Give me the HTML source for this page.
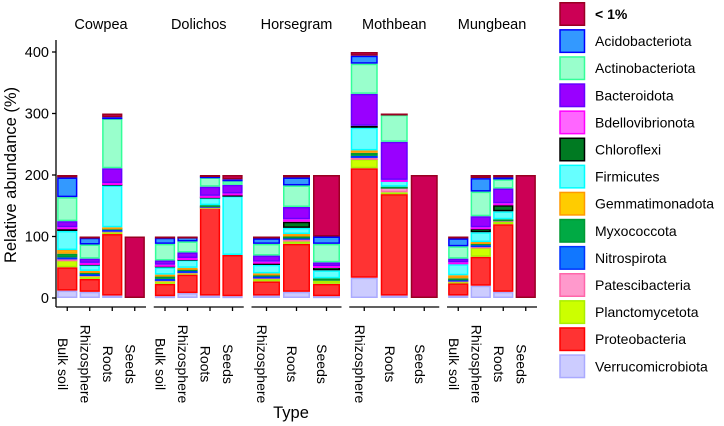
<!DOCTYPE html>
<html><head><meta charset="utf-8">
<style>
html,body{margin:0;padding:0;background:#fff;}
svg{display:block;font-family:"Liberation Sans",Arial,sans-serif;}
</style></head>
<body>
<svg id="chart" width="724" height="426" viewBox="0 0 724 426" xmlns="http://www.w3.org/2000/svg"></svg>
<script>
const taxa = ["Verrucomicrobiota","Proteobacteria","Planctomycetota","Patescibacteria","Nitrospirota","Myxococcota","Gemmatimonadota","Firmicutes","Chloroflexi","Bdellovibrionota","Bacteroidota","Actinobacteriota","Acidobacteriota","< 1%"];
const legendOrder = ["< 1%","Acidobacteriota","Actinobacteriota","Bacteroidota","Bdellovibrionota","Chloroflexi","Firmicutes","Gemmatimonadota","Myxococcota","Nitrospirota","Patescibacteria","Planctomycetota","Proteobacteria","Verrucomicrobiota"];
const crops = ["Cowpea","Dolichos","Horsegram","Mothbean","Mungbean"];
const cropTypes = [
  ["Bulk soil","Rhizosphere","Roots","Seeds"],
  ["Bulk soil","Rhizosphere","Roots","Seeds"],
  ["Rhizosphere","Roots","Seeds"],
  ["Rhizosphere","Roots","Seeds"],
  ["Bulk soil","Rhizosphere","Roots","Seeds"]
];
// values per bar in taxa order (bottom to top)
const cowpeaBulk   = [12,38,12,1,3,6,6,31,4,2,10,39,32,4];
const cowpeaRhizo  = [10,21,6,1,1,3,2,10,2,1,7,23,11,2];
const cowpeaRoots  = [4,100,5,1,1,3,1,68,3,1,24,81,2,6];
const cowpeaSeeds  = [0,0,0,0,0,0,0,0,0,0,0,0,0,100];
const dolBulk      = [3,20,6,1,1,4,3,12,3,1,7,27,10,2];
const dolRhizo     = [8,30,4,1,1,3,2,13,2,1,9,18,7,1];
const dolRoots     = [4,143,1,1,1,1,0,12,2,1,15,15,2,2];
const dolSeeds     = [3,67,0,0,0,0,0,96,2,2,14,6,3,7];
const horRhizo     = [4,23,5,2,1,3,2,14,3,2,10,19,9,3];
const horRoots     = [10,78,4,3,3,2,4,10,10,4,20,35,13,4];
const horSeeds     = [3,20,5,0,0,4,0,13,6,1,6,30,12,100];
const mothRhizo    = [33,178,15,2,3,5,4,37,3,0,52,49,13,6];
const mothRoots    = [4,165,3,8,0,1,0,10,0,1,62,44,0,2];
const mothSeeds    = [0,0,0,0,0,0,0,0,0,0,0,0,0,200];
const mungBulk     = [4,20,3,2,1,2,5,18,0,3,6,20,13,3];
const mungRhizo    = [20,47,15,2,2,3,2,16,6,2,18,40,22,5];
const mungRoots    = [10,110,4,3,0,1,0,13,10,3,24,15,3,4];
const mungSeeds    = [0,0,0,0,0,0,0,0,0,0,0,0,0,200];
const yTicks = [0,100,200,300,400];

const seriesByCrop = [
  [cowpeaBulk,cowpeaRhizo,cowpeaRoots,cowpeaSeeds],
  [dolBulk,dolRhizo,dolRoots,dolSeeds],
  [horRhizo,horRoots,horSeeds],
  [mothRhizo,mothRoots,mothSeeds],
  [mungBulk,mungRhizo,mungRoots,mungSeeds]
];
const fills = {"< 1%":"#cc0055","Acidobacteriota":"#3399ff","Actinobacteriota":"#99ffcc","Bacteroidota":"#9900ff","Bdellovibrionota":"#ff66ff","Chloroflexi":"#007a22","Firmicutes":"#66ffff","Gemmatimonadota":"#ffcc00","Myxococcota":"#00aa44","Nitrospirota":"#1177ff","Patescibacteria":"#ff99cc","Planctomycetota":"#ccff00","Proteobacteria":"#ff3333","Verrucomicrobiota":"#ccccff"};
const strokes = {"< 1%":"#990022","Acidobacteriota":"#0000ff","Actinobacteriota":"#33ff99","Bacteroidota":"#6600ff","Bdellovibrionota":"#ff00ff","Chloroflexi":"#000000","Firmicutes":"#00ffff","Gemmatimonadota":"#ff9900","Myxococcota":"#009933","Nitrospirota":"#0033ff","Patescibacteria":"#ff66aa","Planctomycetota":"#aaee00","Proteobacteria":"#ff0000","Verrucomicrobiota":"#aaaaff"};

const NS="http://www.w3.org/2000/svg";
const svg=document.getElementById('chart');
function mk(tag,attrs,parent){const e=document.createElementNS(NS,tag);for(const k in attrs)e.setAttribute(k,attrs[k]);(parent||svg).appendChild(e);return e;}
const y0=298, yTop=52, vMax=400;
function yS(v){return y0-(v/vMax)*(y0-yTop);}
const panelX0=56, panelStep=97.75, panelW=90, axisY=307;

const yAxis=mk('g',{});


mk('line',{x1:panelX0,x2:panelX0,y1:40,y2:axisY,stroke:'#000','stroke-width':1.3},yAxis);
yTicks.forEach(t=>{
  mk('line',{x1:panelX0-4,x2:panelX0,y1:yS(t),y2:yS(t),stroke:'#000','stroke-width':1.3},yAxis);
  const tx=mk('text',{x:panelX0-7,y:yS(t)+5,'text-anchor':'end','font-size':14.5},yAxis);
  
  
  tx.textContent=t;
});
const yt=mk('text',{x:0,y:0,transform:'translate(16,175) rotate(-90)','text-anchor':'middle','font-size':16.5});


yt.textContent='Relative abundance (%)';
const xt=mk('text',{x:291,y:418,'text-anchor':'middle','font-size':16.5});


xt.textContent='Type';

crops.forEach((crop,ci)=>{
  const px=panelX0+ci*panelStep;
  const g=mk('g',{});
  
  
  const ft=mk('text',{x:px+panelW/2,y:29,'text-anchor':'middle','font-size':14.5},g);
  
  
  ft.textContent=crop;
  mk('line',{x1:px,x2:px+panelW,y1:axisY,y2:axisY,stroke:'#000','stroke-width':1.3},g);
  const types=cropTypes[ci], n=types.length, slot=panelW/n, bw=slot*0.9;
  types.forEach((tp,bi)=>{
    const cx=px+slot*(bi+0.5);
    const vals=seriesByCrop[ci][bi];
    let cum=0;
    const bg=mk('g',{},g);
    
    
    vals.forEach((v,ti)=>{
      if(v<=0)return;
      const yt1=yS(cum+v), yb=yS(cum);
      const r=mk('rect',{x:cx-bw/2+0.75,y:yt1+0.75,width:bw-1.5,height:Math.max(0.5,yb-yt1-1.5),fill:fills[taxa[ti]],stroke:strokes[taxa[ti]],'stroke-width':1.5},bg);
      
      
      cum+=v;
    });
    mk('line',{x1:cx,x2:cx,y1:axisY,y2:axisY+4,stroke:'#000','stroke-width':1.3},g);
    const lt=mk('text',{x:0,y:0,transform:`translate(${cx-9.5},364) rotate(90)`,'text-anchor':'middle','font-size':14},g);
    
    
    lt.textContent=tp;
  });
});

const lg=mk('g',{});


legendOrder.forEach((t,i)=>{
  const ky=2+i*27.1;
  const e=mk('g',{},lg);
  
  
  mk('rect',{x:560,y:ky+0.75,width:24.5,height:22.5,fill:fills[t],stroke:strokes[t],'stroke-width':1.5},e);
  const tx=mk('text',{x:595,y:ky+17,'font-size':14,'font-weight':i===0?'bold':'normal'},e);
  tx.textContent=t;
});
</script>
</body></html>
